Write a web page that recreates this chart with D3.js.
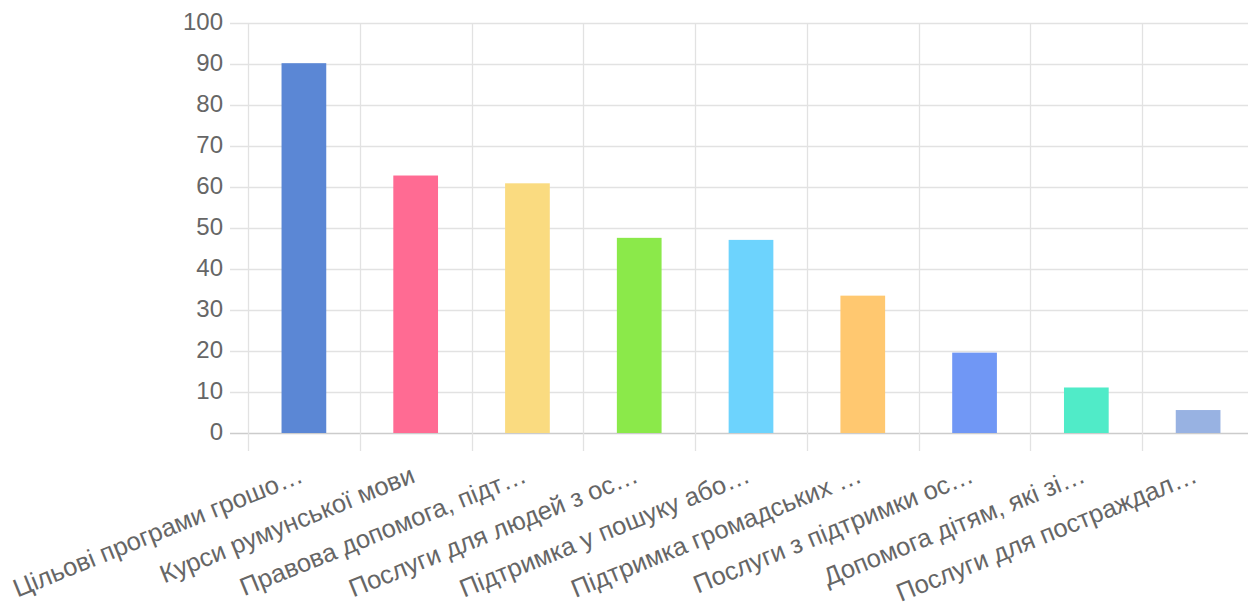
<!DOCTYPE html>
<html><head><meta charset="utf-8">
<script src="https://cdn.jsdelivr.net/npm/d3@7"></script>
<style>html,body{margin:0;padding:0;background:#fff;overflow:hidden}</style>
</head><body>
<script>
const categories = [
  "Цільові програми грошо…",
  "Курси румунської мови",
  "Правова допомога, підт…",
  "Послуги для людей з ос…",
  "Підтримка у пошуку або…",
  "Підтримка громадських …",
  "Послуги з підтримки ос…",
  "Допомога дітям, які зі…",
  "Послуги для постраждал…"
];
const values = [90.2, 62.8, 60.9, 47.6, 47.1, 33.5, 19.6, 11.1, 5.6];
const colors = ["#5b87d5", "#ff6b93", "#fadb80", "#8be94a", "#6dd3fd", "#ffc870", "#7097f5", "#50ebc8", "#98b2e2"];
const yTicks = [0, 10, 20, 30, 40, 50, 60, 70, 80, 90, 100];

(function () {
const W = 1248, H = 609;
const mLeft = 248, mRight = 1254, mTop = 23, mBottom = 433;
const svg = d3.select("body").append("svg").attr("width", W).attr("height", H)
  .style("font-family", "'Liberation Sans', Arial, sans-serif");

const x = d3.scaleBand().domain(categories).range([mLeft, mRight]).paddingInner(0).paddingOuter(0);
const y = d3.scaleLinear().domain([0, 100]).range([mBottom, mTop]);
const barW = x.bandwidth() * 0.4;

svg.append("g").selectAll("line").data(yTicks).join("line")
  .attr("x1", mLeft - 18).attr("x2", mRight)
  .attr("y1", d => Math.round(y(d)) + 0.5).attr("y2", d => Math.round(y(d)) + 0.5)
  .attr("stroke", d => d === 0 ? "#cccccc" : "#e2e2e2").attr("stroke-width", d => d === 0 ? 1.6 : 1.3);

const bounds = categories.map(c => x(c)).concat([mRight]);
svg.append("g").selectAll("line").data(bounds).join("line")
  .attr("x1", d => Math.round(d) + 0.5).attr("x2", d => Math.round(d) + 0.5)
  .attr("y1", mTop).attr("y2", mBottom + 18)
  .attr("stroke", "#e2e2e2").attr("stroke-width", 1.3);

svg.append("g").selectAll("text").data(yTicks).join("text")
  .attr("x", mLeft - 25).attr("y", d => y(d)).attr("dy", "0.3em")
  .attr("text-anchor", "end").attr("fill", "#666").style("font-size", "24px")
  .text(d => d);

svg.append("g").selectAll("rect").data(values).join("rect")
  .attr("x", (d, i) => x(categories[i]) + (x.bandwidth() - barW) / 2)
  .attr("width", barW)
  .attr("y", d => y(d)).attr("height", d => y(0) - y(d))
  .attr("fill", (d, i) => colors[i]);

svg.append("g").selectAll("text").data(categories).join("text")
  .attr("transform", d => `translate(${x(d) + x.bandwidth() / 2 - 6},${mBottom + 32}) rotate(-22)`)
  .attr("text-anchor", "end").attr("dy", "0.7em")
  .attr("fill", "#666").style("font-size", "25.5px")
  .text(d => d);
})();
</script>
</body></html>
